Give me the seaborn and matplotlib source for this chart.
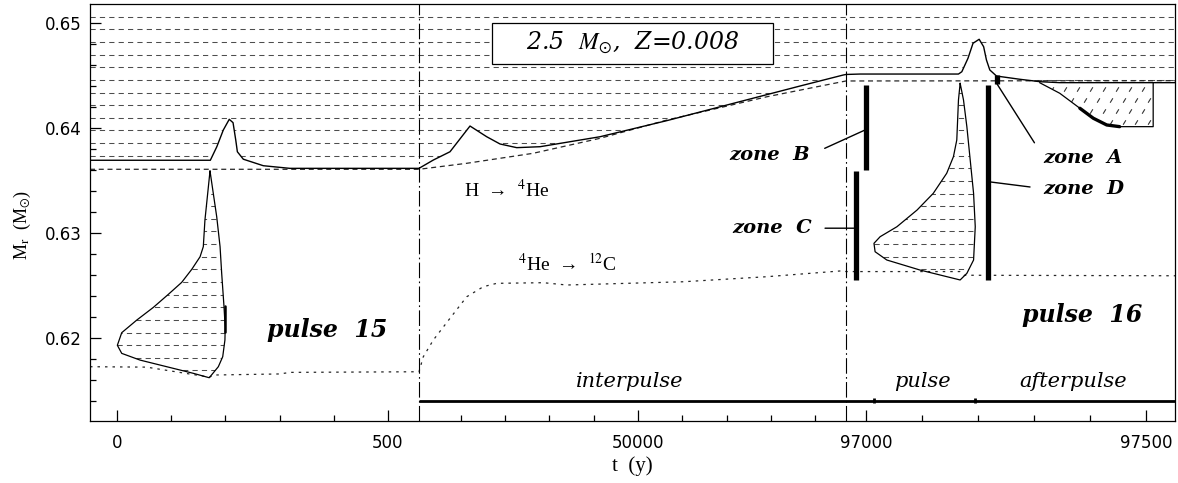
import numpy as np
import pandas as pd
import matplotlib
matplotlib.use("Agg")
import matplotlib.pyplot as plt
from matplotlib.patches import Polygon, Rectangle
from matplotlib.path import Path
import seaborn as sns

# ---------------------------------------------------------------------------
# Data: 2.5 Msun, Z=0.008 model, thermal pulses 15 and 16
# ---------------------------------------------------------------------------
# time axis pieces: pulse 15 | interpulse | pulse 16
T_EDGES = [-50.6, 558.0, 96964.0, 97552.0]

# bottom of the convective envelope (solid line)
env_t = [-50.6, 172, 184, 196, 207, 214, 219, 222, 233, 270, 319, 558,
         3787, 7558, 12074, 15845, 18848, 22619, 27880, 41428, 56489, 71530,
         86588, 96364, 96964,
         96989, 97165, 97171, 97182, 97191, 97202, 97210, 97215, 97221, 97233,
         97275, 97311, 97346, 97552]
env_m = [0.63690, 0.63690, 0.63819, 0.63978, 0.64080, 0.64048, 0.63883, 0.63771,
         0.63700, 0.63638, 0.63613, 0.63613,
         0.63692, 0.63771, 0.64016, 0.63914, 0.63845, 0.63810, 0.63819, 0.63914,
         0.64067, 0.64232, 0.64397, 0.64502, 0.64507,
         0.64511, 0.64511, 0.64533, 0.64661, 0.64804, 0.64842, 0.64771, 0.64645,
         0.64550, 0.64492, 0.64461, 0.64438, 0.64429, 0.64429]

# H-burning shell (H -> 4He)
h_t = [-50.6, 558, 11329, 26300, 41428, 56560, 79140, 96964, 97552]
h_m = [0.63604, 0.63604, 0.63661, 0.63756, 0.63899, 0.64073, 0.64295, 0.64445, 0.64448]

# He-burning shell (4He -> 12C)
he_t = [-50.6, 54, 170, 180, 300, 320, 558, 1529, 3787, 7558, 11329, 15077,
        18103, 28625, 33910, 60243, 79072, 96354, 96964, 97168, 97175, 97552]
he_m = [0.61724, 0.61720, 0.61625, 0.61645, 0.61655, 0.61670, 0.61676, 0.61819,
        0.61978, 0.62185, 0.62390, 0.62486, 0.62518, 0.62524, 0.62502, 0.62533,
        0.62581, 0.62638, 0.62630, 0.62630, 0.62595, 0.62590]

# intershell convective zone of pulse 15 (closed outline)
p15_t = [171.4, 162, 159, 153, 137.6, 119, 94.3, 66.6, 35.9, 8.1, 0, 8.1, 42,
         91.3, 140.5, 170, 186.8, 194.9, 199, 199.5, 197.3, 193, 190, 183.8, 171.4]
p15_m = [0.63588, 0.63119, 0.62867, 0.62771, 0.62651, 0.62527, 0.62413, 0.62289,
         0.62168, 0.62048, 0.61928, 0.61851, 0.61787, 0.61724, 0.61661, 0.61619,
         0.61724, 0.61819, 0.61978, 0.62100, 0.62295, 0.62613, 0.62867, 0.63152,
         0.63588]

# intershell convective zone of pulse 16 (closed outline)
p16_t = [97168, 97165, 97162, 97156, 97144, 97120, 97091, 97055, 97025, 97014,
         97016, 97037, 97096, 97168, 97180, 97192, 97195, 97192, 97186, 97180,
         97174, 97168]
p16_m = [0.64423, 0.64264, 0.63883, 0.63724, 0.63566, 0.63375, 0.63216, 0.63057,
         0.62962, 0.62899, 0.62819, 0.62740, 0.62645, 0.62550, 0.62613, 0.62740,
         0.63057, 0.63375, 0.63692, 0.64010, 0.64264, 0.64423]

# envelope penetration after pulse 16 (third dredge-up)
dup_t = [97310, 97346, 97382, 97406, 97430, 97453, 97513]
dup_m = [0.64429, 0.64328, 0.64185, 0.64090, 0.64026, 0.64010, 0.64010]

# zones A-D
zone_names = ["A", "B", "C", "D"]
zone_t = [97234, 97000, 96982, 97218]
zone_lo = [0.64416, 0.63595, 0.62550, 0.62550]
zone_hi = [0.64502, 0.64407, 0.63590, 0.64407]

# evolutionary phases of pulse 16
phase_names = ["interpulse", "pulse", "afterpulse"]
phase_bounds = [558, 97014, 97195, 97552]

# axis ticks
x_major = [0, 500, 50000, 97000, 97500]
x_minor = [100, 200, 300, 400, 10000, 20000, 30000, 40000, 60000, 70000,
           80000, 90000, 97100, 97200, 97300, 97400]
y_major = [0.62, 0.63, 0.64, 0.65]

# ---------------------------------------------------------------------------
sns.set_theme(style="ticks", rc={
    "axes.edgecolor": "black", "axes.linewidth": 0.9,
    "xtick.color": "black", "ytick.color": "black",
    "text.color": "black", "axes.labelcolor": "black",
})
plt.rcParams["font.family"] = ["DejaVu Sans"]
plt.rcParams["mathtext.fontset"] = "stix"

fig = plt.figure(figsize=(11.78, 4.83), dpi=100)
ax = fig.add_axes([90 / 1178, 1 - 421 / 483, 1085 / 1178, 417 / 483])

# piecewise-linear time scale (widths of the three panels)
U_EDGES = [0.0, 329.0, 756.0, 1085.0]
slope_l = (U_EDGES[1] - U_EDGES[0]) / (T_EDGES[1] - T_EDGES[0])
slope_r = (U_EDGES[3] - U_EDGES[2]) / (T_EDGES[3] - T_EDGES[2])
t_ext = np.array([T_EDGES[0] - 1e7] + T_EDGES + [T_EDGES[-1] + 1e7])
u_ext = np.array([U_EDGES[0] - 1e7 * slope_l] + U_EDGES + [U_EDGES[-1] + 1e7 * slope_r])


def fwd(t):
    return np.interp(np.asarray(t, float), t_ext, u_ext)


def inv(u):
    return np.interp(np.asarray(u, float), u_ext, t_ext)


ax.set_xscale("function", functions=(fwd, inv))
Y_LIM = (0.61207, 0.65178)
ax.set_xlim(T_EDGES[0], T_EDGES[-1])
ax.set_ylim(*Y_LIM)

# ---- hatching of convective regions -------------------------------------
HATCH_TOP, HATCH_STEP = 0.65057, 0.001203
levels = HATCH_TOP - HATCH_STEP * np.arange(30)
hatch_style = dict(colors="0.3", linewidths=0.75, linestyles=[(0, (5, 4))])


def clip_patch(verts):
    poly = Polygon(verts, closed=True, transform=ax.transData,
                   facecolor="none", edgecolor="none")
    ax.add_patch(poly)
    return poly


env_poly = clip_patch(list(zip(env_t, env_m)) +
                      [(T_EDGES[-1], 0.66), (T_EDGES[0], 0.66)])
hl = ax.hlines(levels, T_EDGES[0], T_EDGES[-1], **hatch_style)
hl.set_clip_path(env_poly)

for pt, pm in [(p15_t, p15_m), (p16_t, p16_m)]:
    poly = clip_patch(list(zip(pt, pm)))
    hl = ax.hlines(levels, min(pt), max(pt), **hatch_style)
    hl.set_clip_path(poly)

# slash pattern in the dredge-up pocket
dup_poly = clip_patch(list(zip(dup_t, dup_m)) + [(dup_t[-1], dup_m[0])])
rows = np.arange(dup_m[0] - 0.0006, min(dup_m), -0.00105)
sx, sy = [], []
for i, r in enumerate(rows):
    cols = np.arange(dup_t[0] + (12 if i % 2 else 0), dup_t[-1], 23)
    sx.extend(cols)
    sy.extend([r] * len(cols))
slash = Path([(-0.3, -0.5), (0.3, 0.5)], [Path.MOVETO, Path.LINETO])
marks, = ax.plot(sx, sy, ls="none", marker=slash, ms=3.2, mec="0.2",
                 mfc="none", mew=0.8)
marks.set_clip_path(dup_poly)

# ---- burning shells and envelope ----------------------------------------
sns.lineplot(x=h_t, y=h_m, sort=False, estimator=None, color="0.15", lw=0.9, ax=ax)
ax.lines[-1].set_dashes((4, 3))
sns.lineplot(x=he_t, y=he_m, sort=False, estimator=None, color="0.15", lw=0.9, ax=ax)
ax.lines[-1].set_dashes((2, 4))
sns.lineplot(x=env_t, y=env_m, sort=False, estimator=None, color="black", lw=1.0, ax=ax)

# pulse convective zones
sns.lineplot(x=p15_t, y=p15_m, sort=False, estimator=None, color="black", lw=0.9, ax=ax)
sns.lineplot(x=p16_t, y=p16_m, sort=False, estimator=None, color="black", lw=0.9, ax=ax)
ax.plot([199, 199], [0.62050, 0.62300], color="black", lw=1.8)

# dredge-up pocket outline
dup_close_t = dup_t + [dup_t[-1]]
dup_close_m = dup_m + [dup_m[0]]
sns.lineplot(x=dup_close_t, y=dup_close_m, sort=False, estimator=None,
             color="black", lw=0.9, ax=ax)
thick = [(t, m) for t, m in zip(dup_t, dup_m) if 97380 <= t <= 97455]
ax.plot([p[0] for p in thick], [p[1] for p in thick], color="black", lw=2.4,
        solid_capstyle="round")

# panel separators
for tb in T_EDGES[1:3]:
    ax.axvline(tb, color="black", lw=0.8, dashes=(14, 3, 1.5, 3))

# zones
ax.vlines(zone_t, zone_lo, zone_hi, colors="black", lw=3.8, capstyle="butt")
zfont = dict(family="DejaVu Serif", style="italic", weight="bold", size=14)
lead = dict(arrowstyle="-", color="black", lw=1.0, shrinkB=0)
ax.annotate("zone  " + zone_names[1], xy=(zone_t[1], 0.63983),
            xytext=(88846, 0.63740), ha="right", va="center",
            arrowprops=dict(relpos=(1, 0.5), shrinkA=9, **lead), **zfont)
ax.annotate("zone  " + zone_names[2], xy=(zone_t[2], 0.63043),
            xytext=(89296, 0.63043), ha="right", va="center",
            arrowprops=dict(relpos=(1, 0.5), shrinkA=7, **lead), **zfont)
ax.annotate("zone  " + zone_names[0], xy=(zone_t[0], zone_lo[0]),
            xytext=(97316, 0.63712), ha="left", va="center",
            arrowprops=dict(relpos=(0, 0.6), shrinkA=7, **lead), **zfont)
ax.annotate("zone  " + zone_names[3], xy=(zone_t[3], 0.63486),
            xytext=(97316, 0.63420), ha="left", va="center",
            arrowprops=dict(relpos=(0, 0.5), shrinkA=7, **lead), **zfont)

# phase bar
PHASE_LEVEL = 0.61401
ax.hlines(PHASE_LEVEL, phase_bounds[0], phase_bounds[-1], colors="black", lw=2.0)
ax.vlines(phase_bounds[1:3], PHASE_LEVEL - 0.00022, PHASE_LEVEL + 0.00022,
          colors="black", lw=2.0)
pfont = dict(family="DejaVu Serif", style="italic", size=15, ha="center", va="center")
ax.text(0.4977, 0.0942, phase_names[0], transform=ax.transAxes, **pfont)
ax.text(0.7673, 0.0942, phase_names[1], transform=ax.transAxes, **pfont)
ax.text(0.9065, 0.0942, phase_names[2], transform=ax.transAxes, **pfont)

# pulse labels
bfont = dict(family="DejaVu Serif", style="italic", weight="bold", size=17,
             ha="center", va="center")
ax.text(0.2182, 0.2182, "pulse  15", transform=ax.transAxes, **bfont)
ax.text(0.9147, 0.2542, "pulse  16", transform=ax.transAxes, **bfont)

# burning-shell labels
rfont = dict(family=["Liberation Serif", "DejaVu Serif"], size=14,
             ha="center", va="center")
ax.text(20361, 0.63407, "H  \u2192  $^{4}$He", **rfont)
ax.text(34089, 0.62709, "$^{4}$He  \u2192  $^{12}$C", **rfont)

# model box
ax.add_patch(Rectangle((0.3702, 0.8561), 0.2596, 0.0991, transform=ax.transAxes,
                       facecolor="white", edgecolor="black", lw=0.9, zorder=5))
ax.text(0.5, 0.9058, "2.5  $M_{\\odot}$,  Z=0.008", transform=ax.transAxes,
        family="DejaVu Serif", style="italic", size=17, ha="center", va="center",
        zorder=6)

# ---- axes ----------------------------------------------------------------
ax.set_xticks(x_major)
ax.set_xticklabels([str(v) for v in x_major])
ax.set_xticks(x_minor, minor=True)
ax.set_yticks(y_major)
ax.set_yticklabels([f"{v:.2f}" for v in y_major])
ax.set_yticks(np.arange(0.614, 0.6516, 0.002), minor=True)
ax.tick_params(which="both", direction="in", top=False, right=False,
               labelsize=12, width=0.9)
ax.tick_params(which="major", length=8)
ax.tick_params(axis="x", which="major", pad=9)
ax.tick_params(axis="y", which="major", pad=6)
ax.tick_params(which="minor", length=4)
for lab in ax.get_xticklabels() + ax.get_yticklabels():
    lab.set_family("DejaVu Sans")

ax.set_xlabel("t  (y)", family=["Liberation Serif", "DejaVu Serif"], size=15,
              va="center")
ax.set_ylabel("M$_{\\mathrm{r}}$  (M$_{\\odot}$)",
              family=["Liberation Serif", "DejaVu Serif"], size=13, va="center")
ax.xaxis.set_label_coords(0.5, -0.108)
ax.yaxis.set_label_coords(-0.0627, 0.47)

fig.savefig("out.png", dpi=100)
